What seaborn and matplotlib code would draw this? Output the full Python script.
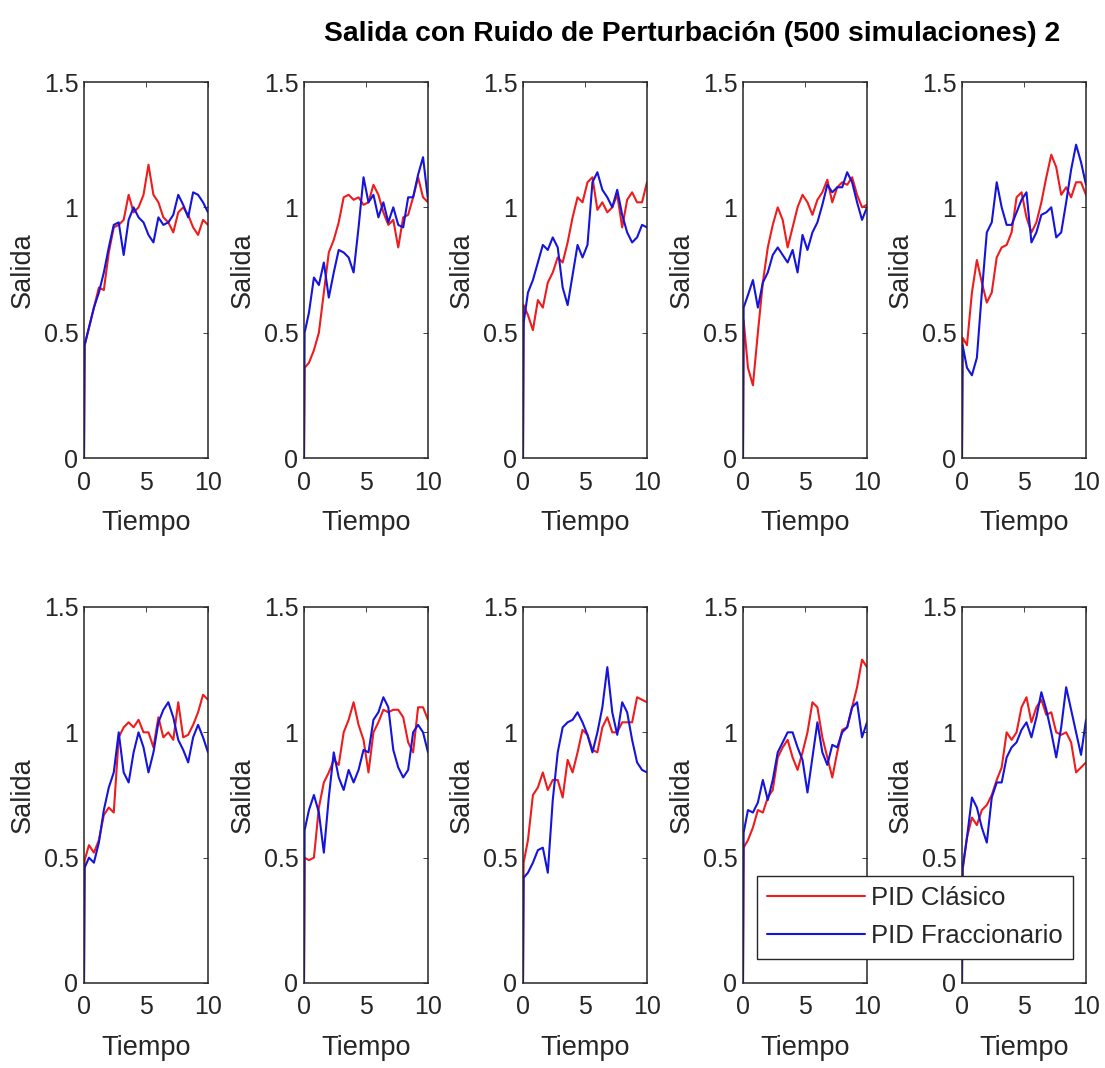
import numpy as np
import pandas as pd
import matplotlib
matplotlib.use("Agg")
import matplotlib.pyplot as plt
import seaborn as sns
from matplotlib.lines import Line2D

# ---------------- data ----------------
tiempo = [0, 0.05, 0.4, 0.8, 1.2, 1.6, 2.0, 2.4, 2.8, 3.2, 3.6, 4.0, 4.4, 4.8,
          5.2, 5.6, 6.0, 6.4, 6.8, 7.2, 7.6, 8.0, 8.4, 8.8, 9.2, 9.6, 10.0]

clasico_1 = [0, .45, .52, .60, .68, .67, .82, .92, .93, .95, 1.05, .98, 1.0, 1.05, 1.17, 1.05, 1.02, .96, .94, .90, .98, 1.0, .97, .92, .89, .95, .93]
fracc_1 = [0, .45, .52, .60, .66, .74, .84, .93, .94, .81, .95, 1.0, .96, .94, .89, .86, .96, .93, .94, .97, 1.05, 1.01, .96, 1.06, 1.05, 1.02, .98]

clasico_2 = [0, .36, .38, .43, .50, .66, .82, .87, .94, 1.04, 1.05, 1.03, 1.04, 1.01, 1.02, 1.09, 1.05, .98, .93, .95, .84, .96, .97, 1.04, 1.12, 1.04, 1.02]
fracc_2 = [0, .50, .58, .72, .69, .78, .64, .74, .83, .82, .80, .74, .92, 1.12, 1.02, 1.05, .96, 1.02, .94, 1.0, .93, .92, 1.04, 1.04, 1.13, 1.20, 1.03]

clasico_3 = [0, .61, .57, .51, .63, .60, .70, .74, .80, .78, .86, .96, 1.04, 1.02, 1.10, 1.12, .99, 1.02, .98, 1.0, 1.05, .92, 1.03, 1.06, 1.02, 1.02, 1.10]
fracc_3 = [0, .54, .66, .71, .78, .85, .83, .88, .84, .68, .61, .73, .85, .80, .85, 1.10, 1.14, 1.07, 1.04, 1.0, 1.07, .97, .90, .86, .88, .93, .92]

clasico_4 = [0, .55, .36, .29, .50, .70, .84, .93, 1.0, .95, .84, .92, 1.0, 1.05, 1.02, .97, 1.03, 1.06, 1.11, 1.02, 1.08, 1.10, 1.09, 1.12, 1.05, 1.0, 1.01]
fracc_4 = [0, .60, .65, .71, .60, .70, .74, .81, .84, .81, .78, .83, .74, .89, .83, .90, .94, 1.01, 1.09, 1.06, 1.08, 1.08, 1.14, 1.10, 1.02, .95, 1.0]

clasico_5 = [0, .48, .45, .66, .79, .70, .62, .66, .80, .84, .85, .90, 1.04, 1.06, .96, .90, .94, 1.02, 1.12, 1.21, 1.16, 1.05, 1.08, 1.04, 1.10, 1.10, 1.05]
fracc_5 = [0, .45, .36, .33, .40, .66, .90, .94, 1.10, 1.0, .93, .93, .98, 1.03, 1.06, .86, .90, .97, .98, 1.0, .88, .90, 1.02, 1.15, 1.25, 1.18, 1.09]

clasico_6 = [0, .49, .55, .52, .57, .67, .70, .68, .98, 1.02, 1.04, 1.02, 1.05, 1.0, 1.0, .94, 1.06, .98, 1.0, .97, 1.12, .98, .99, 1.03, 1.08, 1.15, 1.13]
fracc_6 = [0, .46, .50, .48, .56, .69, .78, .84, 1.0, .84, .80, .92, 1.0, .94, .84, .92, 1.04, 1.09, 1.12, 1.06, .97, .93, .88, .98, 1.03, .98, .92]

clasico_7 = [0, .50, .49, .50, .70, .80, .84, .89, .87, 1.0, 1.05, 1.12, 1.03, .97, .84, 1.0, 1.04, 1.09, 1.08, 1.09, 1.09, 1.06, .96, .92, 1.10, 1.10, 1.05]
fracc_7 = [0, .61, .69, .75, .68, .52, .74, .92, .82, .77, .85, .80, .85, .93, .92, 1.05, 1.08, 1.14, 1.10, .93, .86, .82, .85, 1.0, 1.03, 1.0, .92]

clasico_8 = [0, .48, .57, .75, .78, .84, .77, .81, .81, .74, .89, .84, .92, 1.01, .99, .93, .92, 1.02, 1.06, 1.0, 1.0, 1.04, 1.04, 1.04, 1.14, 1.13, 1.12]
fracc_8 = [0, .42, .44, .48, .53, .54, .44, .73, .92, 1.02, 1.04, 1.05, 1.08, 1.04, .99, .92, 1.0, 1.10, 1.26, 1.08, .99, 1.12, 1.08, .97, .88, .85, .84]

clasico_9 = [0, .54, .57, .62, .69, .68, .74, .77, .90, .94, .97, .90, .85, .92, 1.0, 1.12, 1.10, .98, .90, .82, .92, 1.01, 1.02, 1.10, 1.18, 1.29, 1.26]
fracc_9 = [0, .60, .69, .68, .72, .81, .73, .81, .92, .96, 1.0, 1.0, .94, .89, .76, .90, 1.04, .92, .87, .95, .94, 1.0, 1.02, 1.10, 1.12, .98, 1.04]

clasico_10 = [0, .45, .58, .66, .63, .69, .71, .75, .81, .86, 1.0, .97, 1.0, 1.10, 1.14, 1.04, 1.10, 1.13, 1.07, 1.08, 1.0, .99, 1.0, .96, .84, .86, .88]
fracc_10 = [0, .46, .58, .74, .70, .62, .56, .74, .80, .80, .90, .94, .96, 1.01, 1.04, .98, 1.06, 1.16, 1.09, 1.0, .90, 1.02, 1.18, 1.09, 1.0, .91, 1.05]

series_names = ["PID Clásico", "PID Fraccionario"]
x_ticks = [0, 5, 10]
x_tick_labels = ["0", "5", "10"]
y_ticks = [0, 0.5, 1, 1.5]
y_tick_labels = ["0", "0.5", "1", "1.5"]
titulo = "Salida con Ruido de Perturbación (500 simulaciones) 2"

clasicos = [clasico_1, clasico_2, clasico_3, clasico_4, clasico_5,
            clasico_6, clasico_7, clasico_8, clasico_9, clasico_10]
fraccs = [fracc_1, fracc_2, fracc_3, fracc_4, fracc_5,
          fracc_6, fracc_7, fracc_8, fracc_9, fracc_10]

# ---------------- styling ----------------
sns.set_theme(style="white")
plt.rcParams["font.family"] = ["Liberation Sans", "DejaVu Sans"]

W, H = 1105, 1068
fig = plt.figure(figsize=(W / 100, H / 100), dpi=100)
fig.patch.set_facecolor("white")

RED = "#ee1c1c"
BLUE = "#1414dc"
palette = {series_names[0]: RED, series_names[1]: BLUE}
DARK = "#262626"

lefts_px = [84, 304, 523, 743, 962]
width_px = 124
rows_px = [(82, 458), (607, 983)]

for i in range(10):
    r, c = divmod(i, 5)
    top, bot = rows_px[r]
    ax = fig.add_axes([lefts_px[c] / W, 1 - bot / H, width_px / W, (bot - top) / H])
    n = len(tiempo)
    df = pd.DataFrame({
        "Tiempo": tiempo + tiempo,
        "Salida": clasicos[i] + fraccs[i],
        "Controlador": [series_names[0]] * n + [series_names[1]] * n,
    })
    sns.lineplot(data=df, x="Tiempo", y="Salida", hue="Controlador",
                 hue_order=series_names, palette=palette, ax=ax,
                 legend=False, linewidth=1.5, estimator=None, sort=False)
    ax.set_xlim(0, 10)
    ax.set_ylim(0, 1.5)
    ax.set_xticks(x_ticks)
    ax.set_xticklabels(x_tick_labels)
    ax.set_yticks(y_ticks)
    ax.set_yticklabels(y_tick_labels)
    ax.tick_params(direction="in", top=True, right=True, length=3.5, width=0.6,
                   color=DARK, labelcolor=DARK, labelsize=18)
    ax.tick_params(axis="x", pad=9)
    ax.tick_params(axis="y", pad=4)
    for sp in ax.spines.values():
        sp.set_color(DARK)
        sp.set_linewidth(1.1)
        sp.set_visible(True)
    ax.set_xlabel("Tiempo", fontsize=19.5, color=DARK, labelpad=11)
    ax.set_ylabel("Salida", fontsize=19.5, color=DARK, labelpad=6)
    ax.grid(False)
    ax.set_facecolor("white")

# legend (belongs to the 9th panel, overflows onto the 10th)
handles = [Line2D([], [], color=RED, lw=1.5, label=series_names[0]),
           Line2D([], [], color=BLUE, lw=1.5, label=series_names[1])]
leg = fig.legend(handles=handles, loc="upper left",
                 bbox_to_anchor=(757 / W, 1 - 876 / H), borderaxespad=0,
                 fontsize=18.5, frameon=True, fancybox=False, edgecolor=DARK,
                 facecolor="white", framealpha=1, handlelength=3.8,
                 handletextpad=0.25, borderpad=0.4, labelspacing=0.55)
leg.get_frame().set_linewidth(1.0)
for txt in leg.get_texts():
    txt.set_color(DARK)

# title
t = fig.text(692 / W, 1 - 34 / H, titulo, ha="center", va="center",
             fontsize=19, fontweight="bold", color="black")
fig.canvas.draw()
w = t.get_window_extent().width
t.set_fontsize(19 * 735 / w)

fig.savefig("out.png", dpi=100, facecolor="white")
